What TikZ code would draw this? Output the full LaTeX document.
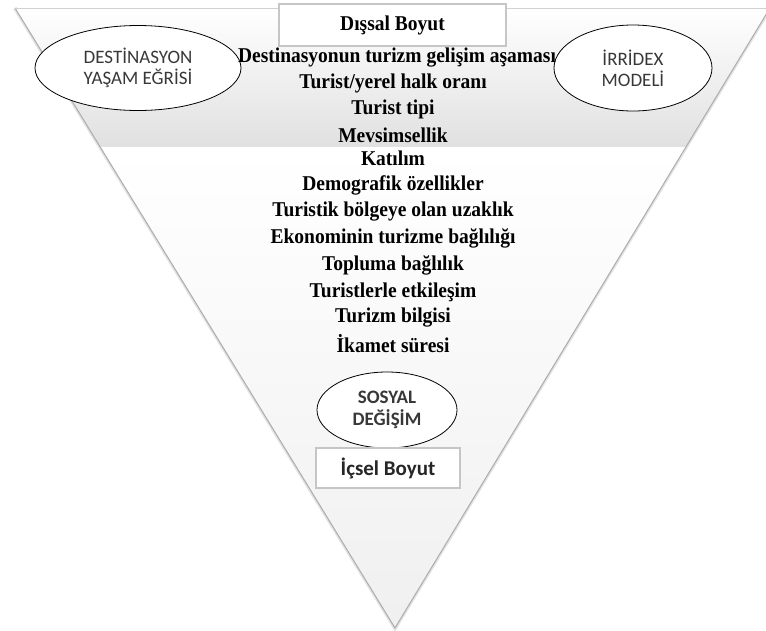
\documentclass[tikz,border=0pt]{standalone}
\usepackage{fontspec}
\setmainfont{Liberation Serif}
\newfontfamily\calfont{Carlito}
\usetikzlibrary{shapes.geometric}
\newcommand{\vstr}[1]{\scalebox{1}[1.08]{#1}}
\begin{document}
\begin{tikzpicture}[x=1pt,y=-1pt,
  txt/.style={font=\fontsize{19.5}{22}\selectfont\bfseries, anchor=center, inner sep=0pt},
  ov/.style={draw=black, line width=0.8pt, ellipse, fill=white, inner sep=0pt, align=center,
    text=black!78, font=\calfont\fontsize{19}{21}\selectfont},
  lbox/.style={draw=gray!45, line width=1.5pt, fill=white, inner sep=0pt}]
\useasboundingbox (0,0) rectangle (766,630);
\coordinate (TL) at (15,8);
\coordinate (TR) at (770,8);
\coordinate (AP) at (395,628);
\coordinate (BL) at (100.2,147);
\coordinate (BR) at (685.9,147);
% shadow
\draw[gray!22, line width=4pt, shift={(-2,3)}] (TL) -- (AP) -- (TR);
% fills
\shade[top color=white, bottom color=gray!24] (TL) -- (TR) -- (BR) -- (BL) -- cycle;
\shade[top color=white, middle color=white, bottom color=gray!12] (BL) -- (BR) -- (AP) -- cycle;
\draw[gray!65, line width=1pt] (TL) -- (AP) -- (TR);
\draw[gray!35, line width=0.8pt] (TL) -- (TR);
% top box
\node[lbox, txt, minimum width=227pt, minimum height=42pt] (dis) at (392.5,25) {\vstr{Dışsal Boyut}};
% ellipses
\node[ov, minimum width=206pt, minimum height=85pt] (dye) at (138,68) {DESTİNASYON\\YAŞAM EĞRİSİ};
\node[ov, minimum width=158pt, minimum height=86pt] (irr) at (633,68) {İRRİDEX\\MODELİ};
% lines
\node[txt] (l1) at (397,58) {\vstr{Destinasyonun turizm gelişim aşaması}};
\node[txt] (l2) at (393,83) {\vstr{Turist/yerel halk oranı}};
\node[txt] (l3) at (393,109) {\vstr{Turist tipi}};
\node[txt] (l4) at (393,135) {\vstr{Mevsimsellik}};
\node[txt] (l5) at (393,158) {\vstr{Katılım}};
\node[txt] (l6) at (393,185) {\vstr{Demografik özellikler}};
\node[txt] (l7) at (393,212) {\vstr{Turistik bölgeye olan uzaklık}};
\node[txt] (l8) at (393,238) {\vstr{Ekonominin turizme bağlılığı}};
\node[txt] (l9) at (393,265) {\vstr{Topluma bağlılık}};
\node[txt] (l10) at (393,292) {\vstr{Turistlerle etkileşim}};
\node[txt] (l11) at (393,318) {\vstr{Turizm bilgisi}};
\node[txt] (l12) at (393,344) {\vstr{İkamet süresi}};
% bottom
\node[ov, font=\calfont\bfseries\fontsize{19}{22}\selectfont, minimum width=140pt, minimum height=76pt] (sos) at (387,410) {SOSYAL\\DEĞİŞİM};
\node[lbox, text=black!85, font=\calfont\bfseries\fontsize{21}{22}\selectfont, minimum width=144pt, minimum height=40pt] (ics) at (388,468) {İçsel Boyut};
\end{tikzpicture}
\end{document}
